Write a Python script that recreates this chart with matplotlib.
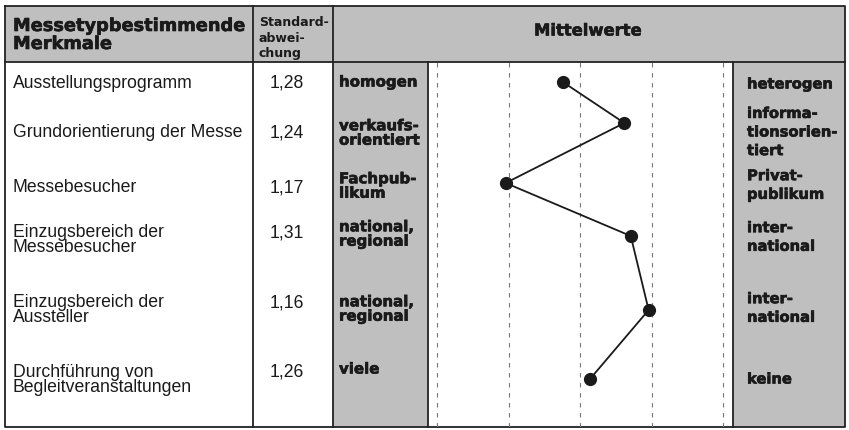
import matplotlib
matplotlib.use("Agg")
import matplotlib.pyplot as plt
import matplotlib.patheffects as pe
from matplotlib.patches import Rectangle

# --- data ---
merkmale = [
    "Ausstellungsprogramm",
    "Grundorientierung der Messe",
    "Messebesucher",
    "Einzugsbereich der\nMessebesucher",
    "Einzugsbereich der\nAussteller",
    "Durchführung von\nBegleitveranstaltungen",
]
std_abweichung = ["1,28", "1,24", "1,17", "1,31", "1,16", "1,26"]
pol_links = ["homogen", "verkaufs-\norientiert", "Fachpub-\nlikum",
             "national,\nregional", "national,\nregional", "viele"]
pol_rechts = ["heterogen", "informa-\ntionsorien-\ntiert", "Privat-\npublikum",
              "inter-\nnational", "inter-\nnational", "keine"]
mittelwerte = [2.76, 3.62, 1.96, 3.71, 3.96, 3.14]
skala = [1, 2, 3, 4, 5]

# --- layout (pixels, y from top) ---
W, H = 849, 431
TOP, HEAD_BOT, BOT = 7, 63, 428
X_LEFT, X_STD, X_GL, X_PLOT, X_GR, X_RIGHT = 5, 253, 333, 428, 733, 845
y_label = [83, 133, 188, 240, 310, 380]
y_std = [83, 133, 188, 233, 303, 372]
y_links = [83, 134, 187, 235, 310, 370]
y_rechts = [85, 133, 186, 238, 309, 380]
y_punkt = [83, 124, 184, 237, 311, 380]

GRAY = "#bfbfbf"
TXT = "#1a1a1a"
BOLD = ["DejaVu Sans"]
REG = ["Liberation Sans", "DejaVu Sans"]
heavy = [pe.withStroke(linewidth=0.45, foreground=TXT)]

fig = plt.figure(figsize=(W / 100, H / 100), dpi=100)
bg = fig.add_axes([0, 0, 1, 1])
bg.set_xlim(0, W)
bg.set_ylim(H, 0)
bg.axis("off")

# shaded areas
bg.add_patch(Rectangle((X_LEFT, TOP), X_RIGHT - X_LEFT, HEAD_BOT - TOP, color=GRAY, lw=0))
bg.add_patch(Rectangle((X_GL, HEAD_BOT), X_PLOT - X_GL, BOT - HEAD_BOT, color=GRAY, lw=0))
bg.add_patch(Rectangle((X_GR, HEAD_BOT), X_RIGHT - X_GR, BOT - HEAD_BOT, color=GRAY, lw=0))

# table lines
lw = 1.3
bg.plot([X_LEFT, X_RIGHT, X_RIGHT, X_LEFT, X_LEFT], [TOP, TOP, BOT, BOT, TOP], color="#222222", lw=lw)
bg.plot([X_LEFT, X_RIGHT], [HEAD_BOT, HEAD_BOT], color="#222222", lw=lw)
for x in (X_STD, X_GL):
    bg.plot([x, x], [TOP, BOT], color="#222222", lw=lw)
for x in (X_PLOT, X_GR):
    bg.plot([x, x], [HEAD_BOT, BOT], color="#222222", lw=lw)

# header
bg.text(13, 36, "Messetypbestimmende\nMerkmale", family=BOLD, weight="bold",
        fontsize=12.8, color=TXT, va="center", ha="left", linespacing=1.0,
        path_effects=heavy)
bg.text(259, 38, "Standard-\nabwei-\nchung", family=BOLD, weight="bold",
        fontsize=9.0, color=TXT, va="center", ha="left", linespacing=1.25)
bg.text(588, 32, "Mittelwerte", family=BOLD, weight="bold",
        fontsize=11.8, color=TXT, va="center", ha="center", path_effects=heavy)

# rows
for i in range(len(merkmale)):
    bg.text(13, y_label[i], merkmale[i], family=REG, fontsize=12.7, color=TXT,
            va="center", ha="left", linespacing=0.92)
    bg.text(287, y_std[i], std_abweichung[i], family=REG, fontsize=12.7, color=TXT,
            va="center", ha="center")
    bg.text(339, y_links[i], pol_links[i], family=BOLD, weight="bold", fontsize=10.8,
            color=TXT, va="center", ha="left", linespacing=0.95, path_effects=heavy)
    bg.text(747, y_rechts[i], pol_rechts[i], family=BOLD, weight="bold", fontsize=10.6,
            color=TXT, va="center", ha="left", linespacing=1.3, path_effects=heavy)

# profile plot
x0 = skala[0] - (437 - X_PLOT) / 71.5
x1 = skala[-1] + (X_GR - 723) / 71.5
ax = fig.add_axes([X_PLOT / W, (H - BOT) / H, (X_GR - X_PLOT) / W, (BOT - HEAD_BOT) / H])
ax.patch.set_alpha(0)
ax.set_xlim(x0, x1)
ax.set_ylim(BOT, HEAD_BOT)
ax.axis("off")
for v in skala:
    ax.axvline(v, color="#777777", lw=0.8, ls=(0, (4, 5)))
ax.plot(mittelwerte, y_punkt, color="#1a1a1a", lw=1.3, marker="o", ms=8.5,
        markerfacecolor="#1a1a1a", markeredgecolor="#1a1a1a")

fig.savefig("out.png", dpi=100)
